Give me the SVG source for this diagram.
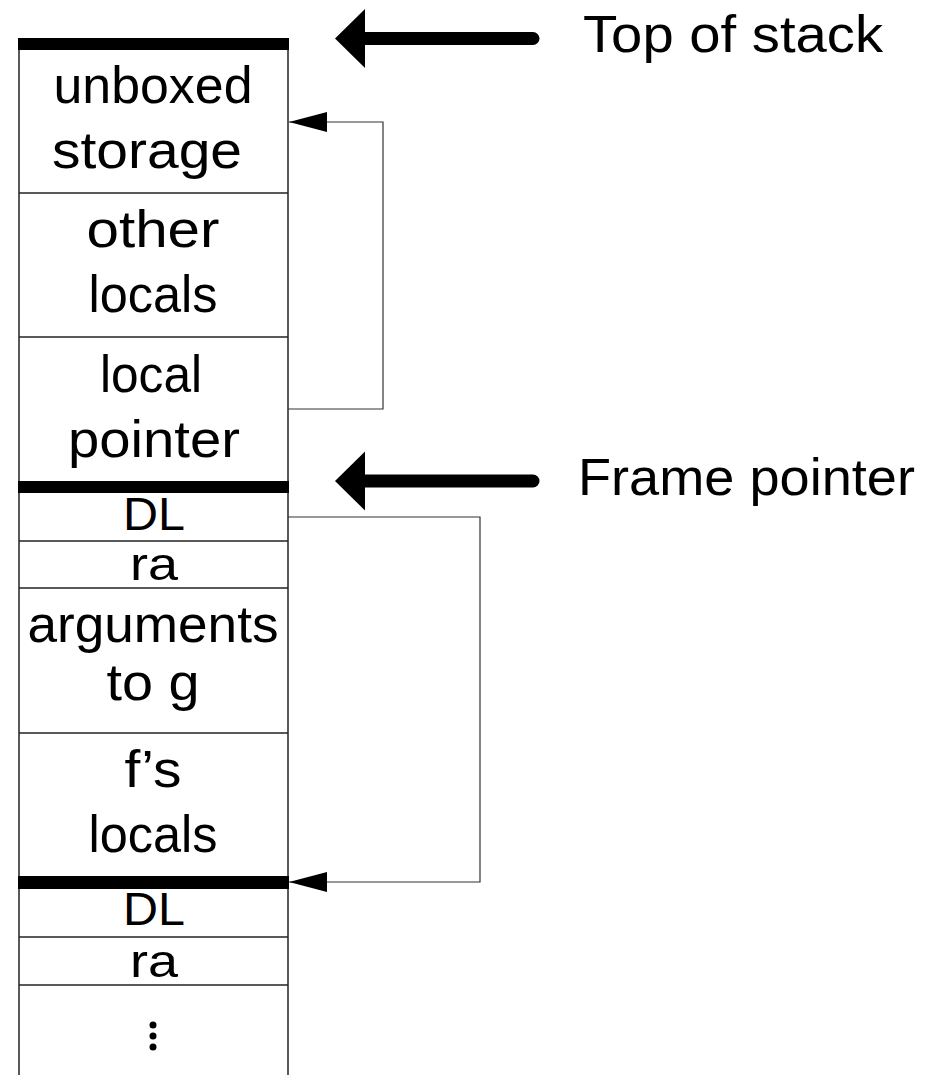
<svg xmlns="http://www.w3.org/2000/svg" width="928" height="1075" viewBox="0 0 928 1075">
<style>
.t{font-family:"Liberation Sans","DejaVu Sans",sans-serif;font-size:52px;fill:#000;text-anchor:middle}
.s{font-size:46px}
.l{font-family:"Liberation Sans","DejaVu Sans",sans-serif;font-size:52px;fill:#000}
.sep{stroke:#222;stroke-width:1.5;fill:none}
.bar{fill:#000}
.conn{stroke:#333;stroke-width:1.2;fill:none}
.big{stroke:#000;stroke-width:13;stroke-linecap:round;fill:none}
</style>
<defs>
<marker id="ah" markerUnits="userSpaceOnUse" viewBox="0 0 38 20" refX="38" refY="10" markerWidth="38" markerHeight="20" orient="auto">
<path d="M0,0 L38,10 L0,20 z" fill="#000"/>
</marker>
<marker id="bigah" markerUnits="userSpaceOnUse" viewBox="0 -30 31 60" refX="0" refY="0" markerWidth="31" markerHeight="60" orient="auto">
<path d="M0,-29.5 L30,0 L0,29.5 z" fill="#000"/>
</marker>
</defs>

<g id="stack">
<line class="sep" x1="19" y1="44" x2="19" y2="1075"/>
<line class="sep" x1="288" y1="44" x2="288" y2="1075"/>
</g>

<g id="unboxed-storage">
<text class="t" x="153" y="103" textLength="199" lengthAdjust="spacingAndGlyphs">unboxed</text>
<text class="t" x="147" y="168" textLength="190" lengthAdjust="spacingAndGlyphs">storage</text>
<line class="sep" x1="19" y1="193" x2="288" y2="193"/>
</g>
<g id="other-locals">
<text class="t" x="153" y="247" textLength="133" lengthAdjust="spacingAndGlyphs">other</text>
<text class="t" x="153" y="312" textLength="129" lengthAdjust="spacingAndGlyphs">locals</text>
<line class="sep" x1="19" y1="337" x2="288" y2="337"/>
</g>
<g id="local-pointer">
<text class="t" x="151" y="392" textLength="102" lengthAdjust="spacingAndGlyphs">local</text>
<text class="t" x="154" y="457" textLength="172" lengthAdjust="spacingAndGlyphs">pointer</text>
</g>
<g id="dl1">
<text class="t s" x="154" y="530" textLength="62" lengthAdjust="spacingAndGlyphs">DL</text>
<line class="sep" x1="19" y1="541" x2="288" y2="541"/>
</g>
<g id="ra1">
<text class="t s" x="154" y="580" textLength="48" lengthAdjust="spacingAndGlyphs">ra</text>
<line class="sep" x1="19" y1="588" x2="288" y2="588"/>
</g>
<g id="arguments">
<text class="t" x="153" y="642" textLength="251" lengthAdjust="spacingAndGlyphs">arguments</text>
<text class="t" x="153" y="700" textLength="93" lengthAdjust="spacingAndGlyphs">to g</text>
<line class="sep" x1="19" y1="733" x2="288" y2="733"/>
</g>
<g id="f-locals">
<text class="t" x="153" y="787" textLength="57" lengthAdjust="spacingAndGlyphs">f’s</text>
<text class="t" x="153" y="852" textLength="129" lengthAdjust="spacingAndGlyphs">locals</text>
</g>
<g id="dl2">
<text class="t s" x="154" y="925" textLength="62" lengthAdjust="spacingAndGlyphs">DL</text>
<line class="sep" x1="19" y1="937" x2="288" y2="937"/>
</g>
<g id="ra2">
<text class="t s" x="154" y="977" textLength="48" lengthAdjust="spacingAndGlyphs">ra</text>
<line class="sep" x1="19" y1="985" x2="288" y2="985"/>
</g>
<g id="ellipsis">
<circle cx="153" cy="1025" r="3.5" fill="#000"/>
<circle cx="153" cy="1036" r="3.5" fill="#000"/>
<circle cx="153" cy="1047" r="3.5" fill="#000"/>
</g>

<g id="bars">
<rect class="bar" x="18" y="38" width="271" height="12"/>
<rect class="bar" x="18" y="481" width="271" height="12"/>
<rect class="bar" x="18" y="876" width="271" height="13"/>
</g>

<g id="connectors">
<path class="conn" d="M288,409 H383 V122 H289" marker-end="url(#ah)"/>
<path class="conn" d="M288,517 H480 V882 H289" marker-end="url(#ah)"/>
<path class="big" d="M533,38.5 H365" marker-end="url(#bigah)"/>
<path class="big" d="M533,481 H365" marker-end="url(#bigah)"/>
</g>

<g id="labels">
<text class="l" x="583" y="52" textLength="300" lengthAdjust="spacingAndGlyphs">Top of stack</text>
<text class="l" x="578" y="495" textLength="337" lengthAdjust="spacingAndGlyphs">Frame pointer</text>
</g>
</svg>
